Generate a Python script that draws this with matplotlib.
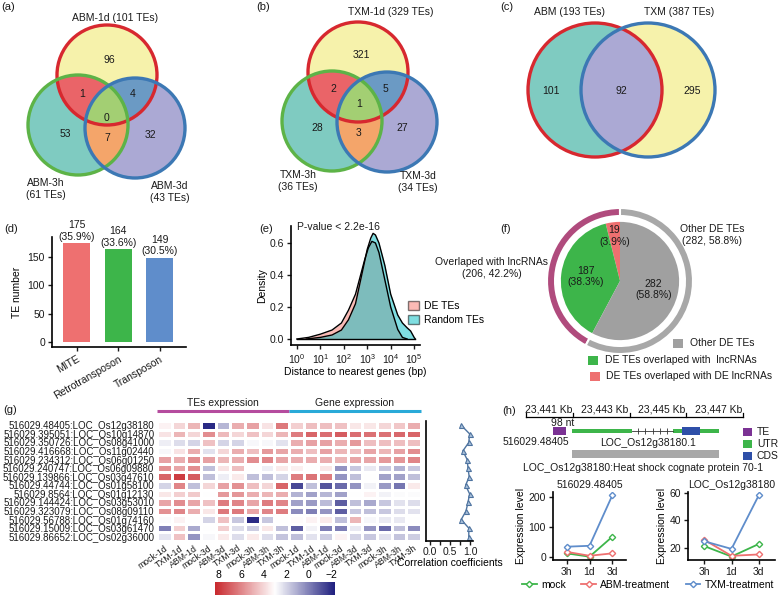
import numpy as np
import matplotlib
matplotlib.use("Agg")
import matplotlib.pyplot as plt
from matplotlib.patches import Circle, Polygon, Rectangle, Patch
from matplotlib.lines import Line2D
from matplotlib.colors import LinearSegmentedColormap

plt.rcParams['font.family'] = ['Liberation Sans', 'DejaVu Sans']
plt.rcParams['font.size'] = 7.5
plt.rcParams['mathtext.fontset'] = 'custom'
plt.rcParams['mathtext.rm'] = 'Liberation Sans'
plt.rcParams['mathtext.it'] = 'Liberation Sans:italic'

# ---------------- data ----------------
abm_sets = ["ABM-1d (101 TEs)", "ABM-3h\n(61 TEs)", "ABM-3d\n(43 TEs)"]
abm_regions = [96, 53, 32, 1, 4, 7, 0]      # 1d, 3h, 3d, 1d&3h, 1d&3d, 3h&3d, all
txm_sets = ["TXM-1d (329 TEs)", "TXM-3h\n(36 TEs)", "TXM-3d\n(34 TEs)"]
txm_regions = [321, 28, 27, 2, 5, 3, 1]
pair_sets = ["ABM (193 TEs)", "TXM (387 TEs)"]
pair_regions = [101, 92, 295]               # ABM only, both, TXM only

te_classes = ["MITE", "Retrotransposon", "Transposon"]
te_numbers = [175, 164, 149]
te_percent = ["35.9%", "33.6%", "30.5%"]

de_log_dist = [0.0, 0.5, 1.0, 1.5, 1.9, 2.2, 2.5, 2.7, 2.9, 3.05, 3.2, 3.35, 3.5, 3.75, 4.0, 4.3, 4.5, 4.7]
de_density = [0.0, 0.01, 0.03, 0.056, 0.10, 0.18, 0.28, 0.39, 0.50, 0.57, 0.61, 0.60, 0.54, 0.37, 0.20, 0.06, 0.01, 0.0]
rand_log_dist = [0.4, 1.0, 1.5, 1.9, 2.2, 2.5, 2.75, 3.0, 3.15, 3.25, 3.35, 3.5, 3.75, 4.0, 4.3, 4.5, 4.7, 4.85, 5.0, 5.05]
rand_density = [0.0, 0.01, 0.025, 0.056, 0.12, 0.22, 0.39, 0.56, 0.63, 0.66, 0.65, 0.60, 0.46, 0.28, 0.15, 0.10, 0.07, 0.05, 0.01, 0.0]
dist_ticks = [0, 1, 2, 3, 4, 5]

pie_names = ["DE TEs overlaped with DE lncRNAs", "DE TEs overlaped with  lncRNAs", "Other DE TEs"]
pie_counts = [19, 187, 282]
pie_percent = ["3.9%", "38.3%", "58.8%"]
ring_counts = [206, 282]
ring_text = ["Overlaped with lncRNAs\n(206, 42.2%)", "Other DE TEs\n(282, 58.8%)"]

row_labels = ["516029.48405:LOC_Os12g38180", "516029.395051:LOC_Os10g14870",
              "516029.350726:LOC_Os08g41000", "516029.416668:LOC_Os11g02440",
              "516029.234312:LOC_Os06g01250", "516029.240747:LOC_Os06g09880",
              "516029.139866:LOC_Os03g47610", "516029.44744:LOC_Os01g58100",
              "516029.8564:LOC_Os01g12130", "516029.144424:LOC_Os03g53010",
              "516029.323079:LOC_Os08g09110", "516029.56788:LOC_Os01g74160",
              "516029.15009:LOC_Os03g61470", "516029.86652:LOC_Os02g36000"]
col_labels = ["mock-1d", "TXM-1d", "ABM-1d", "mock-3d", "ABM-3d", "TXM-3d", "mock-3h", "ABM-3h", "TXM-3h"] * 2
heat_values = np.array([
    [3.3, 4.0, 4.8, -2.0, 1.3, 5.0, 5.3, 3.7, 6.3, 4.2, 4.6, 4.6, 4.5, 3.6, 3.6, 4.0, 4.4, 5.0],
    [3.7, 4.8, 4.0, 5.8, 4.7, 4.0, 4.5, 4.0, 4.8, 6.2, 6.8, 6.6, 7.0, 6.6, 6.5, 6.5, 6.7, 6.8],
    [2.6, 2.2, 2.0, 4.5, 2.0, 2.0, 2.8, 2.8, 2.3, 5.0, 5.3, 5.3, 5.0, 5.5, 4.6, 4.6, 4.6, 4.6],
    [2.8, 3.7, 5.0, 2.3, 4.0, 5.0, 4.6, 5.5, 5.2, 5.0, 4.6, 5.3, 4.8, 4.6, 5.2, 4.8, 5.3, 5.8],
    [5.3, 5.0, 5.8, 5.3, 4.8, 5.0, 5.8, 6.0, 5.2, 5.0, 5.0, 5.0, 4.8, 5.2, 5.2, 5.5, 5.6, 6.0],
    [5.7, 5.2, 5.8, 1.5, 3.7, 4.6, 3.0, 2.6, 3.5, 3.4, 3.0, 3.6, 0.5, 1.7, 2.5, 1.7, 1.2, 1.7],
    [6.8, 7.8, 7.0, 1.5, 2.6, 3.5, 1.5, 1.5, 2.0, 6.2, 6.4, 6.2, 0.5, 1.5, 3.0, 0.8, 0.8, 1.5],
    [2.0, 6.0, 1.5, 4.0, 5.3, 5.7, 4.6, 4.0, 6.8, -1.3, 1.5, -1.0, -0.5, 0.5, 2.7, 0.6, -0.2, 3.5],
    [3.6, 4.2, 4.3, 3.0, 5.5, 5.6, 5.0, 4.8, 5.0, 1.2, 0.8, 1.3, 0.8, 3.0, 3.3, 2.7, 2.9, 2.9],
    [5.2, 5.8, 5.2, 4.5, 6.2, 6.0, 5.2, 6.2, 6.0, 0.8, 0.6, 1.4, -0.8, 1.5, 1.0, 1.7, 2.3, 2.2],
    [5.7, 6.0, 5.0, 3.6, 6.3, 6.3, 5.2, 6.0, 6.2, 0.3, 0.0, 0.5, -0.8, 1.7, 1.5, 1.7, 2.2, 2.3],
    [2.9, 3.3, 3.0, 2.0, 4.5, 1.7, -2.0, 1.7, 3.0, 3.1, 3.3, 3.5, 1.5, 4.8, 2.8, 2.5, 2.5, 3.0],
    [0.0, 4.2, 1.0, 3.0, 4.2, 2.2, 1.8, 3.6, 1.5, -0.8, 2.7, 0.0, 0.0, 2.5, 0.5, -0.5, 1.5, 0.3],
    [2.4, 4.5, 0.5, 2.8, 3.5, 2.2, 3.5, 2.2, 1.6, 1.5, 2.3, 1.8, 3.3, 2.0, 1.7, 2.3, 1.6, 1.8],
])
colorbar_ticks = [8, 6, 4, 2, 0, -2]
corr_values = [0.78, 0.99, 0.97, 0.82, 0.93, 0.95, 0.98, 0.89, 0.99, 0.95, 0.90, 0.78, 0.97, 0.97]

# gene model (kb)
scale_ticks = [23441, 23443, 23445, 23447]
te_span = (23440.29, 23440.75)
utr_spans = [(23440.97, 23443.09), (23444.53, 23444.85), (23445.49, 23446.16)]
intron_span = (23443.09, 23444.53)
cds_span = (23444.85, 23445.49)
transcript_span = (23440.97, 23446.16)

time_points = ["3h", "1d", "3d"]
te_mock = [12, 1, 67]
te_abm = [17, 4, 12]
te_txm = [34, 37, 204]
gene_mock = [21.5, 14, 23]
gene_abm = [26, 14.5, 15.5]
gene_txm = [25, 19.5, 58]

# ---------------- figure ----------------
W, H = 778, 598
fig = plt.figure(figsize=(W / 100, H / 100), dpi=100)


def px_axes(x0, y0, x1, y1, **kw):
    return fig.add_axes([x0 / W, 1 - y1 / H, (x1 - x0) / W, (y1 - y0) / H], **kw)


ov = px_axes(0, 0, W, H)
ov.set_xlim(0, W)
ov.set_ylim(H, 0)
ov.axis('off')
ov.set_zorder(10)

TXT = '#1a1a1a'


def label(x, y, s, **kw):
    d = dict(ha='center', va='center', color=TXT, fontsize=7.5, linespacing=1.15)
    d.update(kw)
    ov.text(x, y, s, **d)


# panel letters
for s, x, y in [("(a)", 1, 7), ("(b)", 256, 7), ("(c)", 500, 7), ("(d)", 4, 229),
                ("(e)", 259, 229), ("(f)", 500, 229), ("(g)", 3, 410), ("(h)", 502, 411)]:
    label(x, y, s, ha='left', fontsize=8)


# ---------------- Venn helpers ----------------
def circ_pts(c, r, n=900):
    t = np.linspace(0, 2 * np.pi, n, endpoint=False)
    return np.column_stack([c[0] + r * np.cos(t), c[1] + r * np.sin(t)])


def inter_poly(circs):
    pts = []
    for i, (c, r) in enumerate(circs):
        p = circ_pts(c, r)
        m = np.ones(len(p), bool)
        for j, (c2, r2) in enumerate(circs):
            if j != i:
                m &= np.hypot(p[:, 0] - c2[0], p[:, 1] - c2[1]) <= r2 + 1e-9
        pts.append(p[m])
    pts = np.vstack(pts)
    cen = pts.mean(0)
    ang = np.arctan2(pts[:, 1] - cen[1], pts[:, 0] - cen[0])
    return pts[np.argsort(ang)]


F_YEL, F_TEAL, F_LAV = '#F6F2AB', '#7FCBC1', '#ABA9D4'
F_RED, F_STEEL, F_ORA, F_GRN = '#EA6468', '#6B9AC4', '#F4A56A', '#A3CF73'
E_RED, E_GRN, E_BLU = '#D7282F', '#5DB347', '#3C78B4'


def venn3(centers, r, sets, regions, set_xy, count_xy):
    fills = [F_YEL, F_TEAL, F_LAV]
    for c, f in zip(centers, fills):
        ov.add_patch(Circle(c, r, fc=f, ec='none', zorder=1))
    for idx, f in [((0, 1), F_RED), ((0, 2), F_STEEL), ((1, 2), F_ORA), ((0, 1, 2), F_GRN)]:
        ov.add_patch(Polygon(inter_poly([(centers[i], r) for i in idx]), closed=True,
                             fc=f, ec='none', zorder=2))
    for c, e in zip(centers, [E_RED, E_GRN, E_BLU]):
        ov.add_patch(Circle(c, r, fc='none', ec=e, lw=2.4, zorder=3))
    for (x, y), s in zip(set_xy, sets):
        label(x, y, s, fontsize=7.5)
    for (x, y), n in zip(count_xy, regions):
        label(x, y, str(n), fontsize=7.5, zorder=4)


venn3([(107, 75), (78, 125), (135, 128)], 50, abm_sets, abm_regions,
      [(115, 18), (46, 189), (170, 192)],
      [(109, 60), (65, 134), (150, 135), (82, 94), (133, 94), (107, 138), (107, 118)])
venn3([(358, 72), (332, 121), (387, 122)], 50, txm_sets, txm_regions,
      [(391, 12), (298, 181), (418, 182)],
      [(361, 55), (317, 128), (402, 128), (333, 89), (385, 89), (359, 133), (359, 104)])

# (c) two-set Venn
cA, cB, rc = (595, 90), (648, 90), 67
ov.add_patch(Circle(cA, rc, fc=F_TEAL, ec='none', zorder=1))
ov.add_patch(Circle(cB, rc, fc=F_YEL, ec='none', zorder=1))
ov.add_patch(Polygon(inter_poly([(cA, rc), (cB, rc)]), closed=True, fc=F_LAV, ec='none', zorder=2))
ov.add_patch(Circle(cA, rc, fc='none', ec=E_RED, lw=2.4, zorder=3))
ov.add_patch(Circle(cB, rc, fc='none', ec=E_BLU, lw=2.4, zorder=3))
for (x, y), s in zip([(570, 12), (679, 12)], pair_sets):
    label(x, y, s)
for (x, y), n in zip([(551, 91), (621, 91), (692, 91)], pair_regions):
    label(x, y, str(n))

# ---------------- (d) bars ----------------
axd = px_axes(52, 237, 186, 347)
xs = np.arange(len(te_classes))
axd.bar(xs, te_numbers, width=0.65, color=['#EE7070', '#3DB54A', '#5F8DCB'], zorder=2)
for x, v, p in zip(xs, te_numbers, te_percent):
    axd.text(x, v + 2, f"{v}\n({p})", ha='center', va='bottom', fontsize=7.5,
             linespacing=1.2, color=TXT, clip_on=False)
axd.set_xlim(-0.6, 2.63)
axd.set_ylim(-8, 185)
axd.set_yticks([0, 50, 100, 150])
axd.set_xticks(xs)
axd.set_xticklabels(te_classes, rotation=30, ha='right', va='top', rotation_mode='anchor')
axd.set_ylabel("TE number", labelpad=4)
for s in ['top', 'right']:
    axd.spines[s].set_visible(False)
for s in ['left', 'bottom']:
    axd.spines[s].set_linewidth(1.2)
axd.tick_params(length=3, width=1, labelsize=7.5, colors=TXT, pad=2)

# ---------------- (e) density ----------------
axe = px_axes(291, 226, 420, 345)
C_DE, C_RND = '#F8766D', '#00BFC4'
axe.fill_between(de_log_dist, de_density, 0, color=C_DE, alpha=0.5, lw=0)
axe.fill_between(rand_log_dist, rand_density, 0, color=C_RND, alpha=0.5, lw=0)
axe.plot(de_log_dist, de_density, color='black', lw=1.0)
axe.plot(rand_log_dist, rand_density, color='black', lw=1.0)
axe.plot([de_log_dist[0], rand_log_dist[-1]], [0, 0], color='black', lw=1.0)
axe.set_xlim(-0.25, 5.25)
axe.set_ylim(-0.0375, 0.706)
axe.set_yticks([0.0, 0.2, 0.4, 0.6])
axe.set_yticklabels(["0.0", "0.2", "0.4", "0.6"])
axe.set_xticks(dist_ticks)
axe.set_xticklabels([f"$10^{{{t}}}$" for t in dist_ticks])
axe.set_ylabel("Density", labelpad=2)
axe.set_xlabel("Distance to nearest genes (bp)", labelpad=1)
for s in ['top', 'right']:
    axe.spines[s].set_visible(False)
for s in ['left', 'bottom']:
    axe.spines[s].set_linewidth(1.2)
axe.tick_params(length=3, width=1, labelsize=7.5, colors=TXT, pad=2)
axe.text(0.0, 0.70, "P-value < 2.2e-16", ha='left', va='center', fontsize=7.5, color=TXT)
axe.legend(handles=[Patch(fc=C_DE, alpha=0.5, ec='black', lw=1.0, label='DE TEs'),
                    Patch(fc=C_RND, alpha=0.5, ec='black', lw=1.0, label='Random TEs')],
           loc='upper left', bbox_to_anchor=(404 / W, 1 - 297 / H), bbox_transform=fig.transFigure,
           frameon=False, fontsize=7.5, handlelength=1.0, handleheight=1.0,
           labelspacing=0.3, handletextpad=0.5, borderaxespad=0)

# ---------------- (f) pie ----------------
axf = px_axes(547, 208, 693, 354)
axf.set_aspect('equal')
axf.pie(ring_counts, radius=1.0, colors=['#B04B7D', '#A8A8A8'], startangle=90, counterclock=True,
        wedgeprops=dict(width=0.11, edgecolor='white', linewidth=1.5))
axf.pie(pie_counts, radius=0.81, colors=['#EE7070', '#3DB54A', '#A0A0A0'], startangle=90,
        counterclock=True, wedgeprops=dict(linewidth=0))
axf.set_xlim(-1, 1)
axf.set_ylim(-1, 1)
cum = np.cumsum([0] + pie_counts) / sum(pie_counts)
for i, (n, p) in enumerate(zip(pie_counts, pie_percent)):
    a = np.deg2rad(90 + 360 * (cum[i] + cum[i + 1]) / 2)
    rr = 0.62 if i == 0 else 0.47
    axf.text(rr * np.cos(a), rr * np.sin(a), f"{n}\n({p})", ha='center', va='center',
             fontsize=7.5, color=TXT, linespacing=1.15)
label(492, 268, ring_text[0])
label(712, 235, ring_text[1])
for (x, y, tx), c, s in zip([(673, 343, 690), (588, 360, 605), (590, 376, 606)],
                            ['#A0A0A0', '#3DB54A', '#EE7070'],
                            [pie_names[2], pie_names[1], pie_names[0]]):
    ov.add_patch(Rectangle((x, y - 4.5), 10, 9, fc=c, ec='none'))
    label(tx, y, s, ha='left')

# ---------------- (g) heatmap ----------------
hm = px_axes(157, 421, 421, 541)
cmap = LinearSegmentedColormap.from_list('nwf', ['#1E1E7E', '#FFFFFF', '#C8282D'])
mesh = hm.pcolormesh(heat_values, cmap=cmap, vmin=-2.3, vmax=8.3, edgecolors='white', linewidth=0.8)
nr, nc = heat_values.shape
hm.set_xlim(0, nc)
hm.set_ylim(nr, 0)
hm.set_yticks(np.arange(nr) + 0.5)
hm.set_yticklabels(row_labels, fontsize=7, color=TXT)
hm.set_xticks(np.arange(nc) + 0.5)
hm.set_xticklabels(col_labels, rotation=35, ha='right', va='top', rotation_mode='anchor',
                   fontsize=6.3, color=TXT)
hm.tick_params(length=0, pad=2)
for s in hm.spines.values():
    s.set_visible(False)
hm.plot([0, 9], [-1.15, -1.15], color='#B54C9E', lw=2.2, clip_on=False, solid_capstyle='butt')
hm.plot([9, 18], [-1.15, -1.15], color='#2AAAD8', lw=2.2, clip_on=False, solid_capstyle='butt')
hm.text(4.5, -2.1, "TEs expression", ha='center', va='center', fontsize=7.5, color=TXT)
hm.text(13.5, -2.1, "Gene expression", ha='center', va='center', fontsize=7.5, color=TXT)

cax = px_axes(215, 582, 335, 595)
cb = fig.colorbar(mesh, cax=cax, orientation='horizontal')
cax.invert_xaxis()
cb.set_ticks(colorbar_ticks)
cb.set_ticklabels([str(t).replace('-', '\u2212') for t in colorbar_ticks])
cax.xaxis.set_ticks_position('top')
cax.tick_params(length=0, labelsize=7.5, pad=1.5)
cb.outline.set_visible(False)

ca = px_axes(426, 421, 473, 541)
ca.plot(corr_values, np.arange(nr) + 0.5, color='#4F74A0', lw=1.0, marker='^', ms=3.6,
        mfc='#A9C0DA', mec='#4F74A0', mew=0.8)
ca.set_ylim(nr, 0)
ca.set_xlim(-0.1, 1.075)
ca.set_yticks([])
ca.set_xticks([0, 0.25, 0.5, 0.75, 1.0])
ca.set_xticklabels(["0.0", "", "0.5", "", "1.0"])
ca.set_xlabel("Correlation coefficients", labelpad=1)
for s in ['top', 'right']:
    ca.spines[s].set_visible(False)
for s in ['left', 'bottom']:
    ca.spines[s].set_linewidth(1.2)
ca.tick_params(length=3, width=1, labelsize=7.5, colors=TXT, pad=1)

# ---------------- (h) gene model ----------------
gs = px_axes(526, 400, 743, 475)
gs.set_xlim(23439.34, 23447)
gs.set_ylim(75, 0)
gs.axis('off')
gs.plot([23439.34, 23447], [17, 17], color='black', lw=0.9, clip_on=False)
for t in [23439.34] + scale_ticks:
    gs.plot([t, t], [17, 12.5], color='black', lw=0.9, clip_on=False)
for t in scale_ticks:
    gs.text(t - 0.04, 9, f"{t:,} Kb", ha='right', va='center', fontsize=7.5, color=TXT)
gs.add_patch(Rectangle((te_span[0], 27), te_span[1] - te_span[0], 8, fc='#7B3294', ec='none'))
gs.plot(list(intron_span), [31, 31], color='#333333', lw=0.6)
for x in np.linspace(intron_span[0] + 0.2, intron_span[1] - 0.2, 5):
    gs.plot([x], [31], marker='|', ms=4, color='#333333', mew=0.6)
for a, b in utr_spans:
    gs.add_patch(Rectangle((a, 29), b - a, 4, fc='#3DB54A', ec='none'))
gs.add_patch(Rectangle((cds_span[0], 27), cds_span[1] - cds_span[0], 8, fc='#2E4FA8', ec='none'))
gs.add_patch(Rectangle((transcript_span[0], 50), transcript_span[1] - transcript_span[0], 8,
                       fc='#A8A8A8', ec='none'))
label(563, 423, "98 nt")
label(569, 442, "516029.48405", ha='right')
label(648, 443, "LOC_Os12g38180.1")
label(643, 468, "LOC_Os12g38180:Heat shock cognate protein 70-1")
for y, c, s in [(432, '#7B3294', 'TE'), (444, '#3DB54A', 'UTR'), (456, '#2E4FA8', 'CDS')]:
    ov.add_patch(Rectangle((743, y - 4), 9, 8, fc=c, ec='none'))
    label(757, y, s, ha='left')

# line plots
C_MOCK, C_ABM, C_TXM = '#3DB54A', '#EE7070', '#5F8DCB'
xt = np.arange(len(time_points))


def line_panel(ax, mock, abm, txm, title, ylim, yticks):
    for v, c in [(mock, C_MOCK), (abm, C_ABM), (txm, C_TXM)]:
        ax.plot(xt, v, color=c, lw=1.3, marker='D', ms=3.2, mfc='white', mec=c, mew=1.0)
    ax.set_xlim(-0.6, 2.6)
    ax.set_ylim(*ylim)
    ax.set_yticks(yticks)
    ax.set_xticks(xt)
    ax.set_xticklabels(time_points)
    ax.set_title(title, fontsize=7.5, pad=3, color=TXT)
    ax.set_ylabel("Expression level", labelpad=2)
    for s in ['top', 'right']:
        ax.spines[s].set_visible(False)
    for s in ['left', 'bottom']:
        ax.spines[s].set_linewidth(1.2)
    ax.tick_params(length=3, width=1, labelsize=7.5, colors=TXT, pad=2)


lp1 = px_axes(553, 492, 626, 560)
line_panel(lp1, te_mock, te_abm, te_txm, "516029.48405", (-10, 215), [0, 100, 200])
lp2 = px_axes(688, 492, 775, 560)
line_panel(lp2, gene_mock, gene_abm, gene_txm, "LOC_Os12g38180", (11.5, 60.5), [20, 40, 60])

handles = [Line2D([], [], color=c, lw=1.3, marker='D', ms=3.2, mfc='white', mec=c, mew=1.0)
           for c in [C_MOCK, C_ABM, C_TXM]]
fig.legend(handles, ["mock", "ABM-treatment", "TXM-treatment"], loc='center',
           bbox_to_anchor=(648 / W, 1 - 585 / H), ncol=3, frameon=False, fontsize=7.5,
           handlelength=1.4, columnspacing=1.5, handletextpad=0.4, borderpad=0.1)

fig.savefig("out.png", dpi=100)
